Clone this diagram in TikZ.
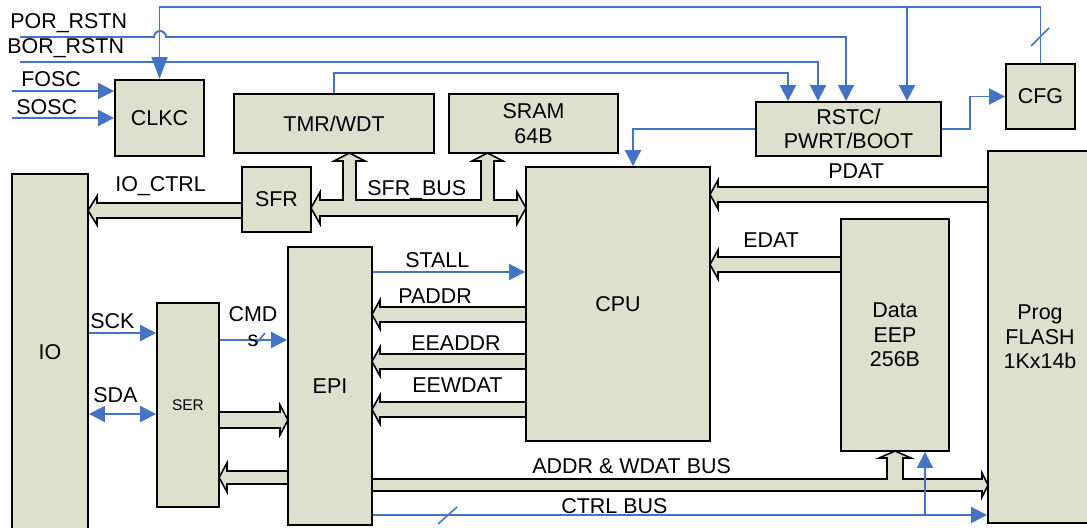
\documentclass[tikz,border=0pt]{standalone}
\usepackage{fontspec}
\setmainfont{Liberation Sans}
\usetikzlibrary{arrows.meta}
\definecolor{boxfill}{RGB}{221,224,204}
\definecolor{sigblue}{RGB}{68,114,196}

\begin{document}
\begin{tikzpicture}[x=0.02cm, y=-0.02cm,
    every node/.style={font=\fontsize{12.2}{13.9}\selectfont},
    blk/.style={draw=black, fill=boxfill, line width=1.1pt, inner sep=0pt, align=center},
    bus/.style={draw=black, fill=boxfill, line width=0.9pt},
    sig/.style={draw=sigblue, line width=1.1pt, -{Triangle[length=0.32cm, width=0.32cm]}},
    sigboth/.style={sig, {Triangle[length=0.32cm, width=0.32cm]}-{Triangle[length=0.32cm, width=0.32cm]}},
    tick/.style={draw=sigblue, line width=0.9pt},
    lbl/.style={inner sep=0pt, anchor=base west}]
    \useasboundingbox (0,0) rectangle (1087,527);

    % buses (drawn first, boxes go on top)
    \draw[bus] (245,203) -- (97,203) -- (97,196) -- (88,210.5) -- (97,225) -- (97,218) -- (245,218);
    \draw[bus] (320,200) -- (343,200) -- (343,161) -- (334,161) -- (349.5,153) -- (365,161) -- (356,161) -- (356,200)
        -- (481,200) -- (481,161) -- (472,161) -- (487.5,153) -- (503,161) -- (494,161) -- (494,200)
        -- (517,200) -- (517,192) -- (526,208) -- (517,224) -- (517,216) -- (320,216) -- (320,224) -- (311,208) -- (320,192) -- cycle;
    \draw[bus] (529,307) -- (380,307) -- (380,300) -- (372,314.5) -- (380,329) -- (380,322) -- (529,322);
    \draw[bus] (529,354) -- (380,354) -- (380,347) -- (372,361.5) -- (380,376) -- (380,369) -- (529,369);
    \draw[bus] (529,402) -- (380,402) -- (380,395) -- (372,409.5) -- (380,424) -- (380,417) -- (529,417);
    \draw[bus] (991,187) -- (718,187) -- (718,180) -- (710,194.5) -- (718,209) -- (718,202) -- (991,202);
    \draw[bus] (844,257) -- (718,257) -- (718,250) -- (710,264.5) -- (718,279) -- (718,272) -- (844,272);
    \draw[bus] (216,412) -- (280,412) -- (280,405) -- (288,420) -- (280,435) -- (280,428) -- (216,428);
    \draw[bus] (291,471) -- (227,471) -- (227,463) -- (219,477.5) -- (227,492) -- (227,484) -- (291,484);
    \draw[bus] (369,479) -- (887,479) -- (887,458) -- (879,458) -- (895,451) -- (911,458) -- (903,458) -- (903,479)
        -- (982,479) -- (982,473) -- (988,485) -- (982,497) -- (982,491) -- (369,491);

    % blocks
    \node[blk, minimum width=1.52cm, minimum height=7.12cm] (io) at (50,352) {IO};
    \node[blk, minimum width=1.78cm, minimum height=1.52cm] (clkc) at (159.5,118) {CLKC};
    \node[blk, minimum width=4.00cm, minimum height=1.18cm] (tmr) at (334,123.5) {TMR/WDT};
    \node[blk, minimum width=3.38cm, minimum height=1.18cm] (sram) at (533.5,123.5) {SRAM\\64B};
    \node[blk, minimum width=3.70cm, minimum height=1.08cm] (rstc) at (848.5,129) {RSTC/\\PWRT/BOOT};
    \node[blk, minimum width=1.38cm, minimum height=1.30cm] (cfg) at (1040.5,96.5) {CFG};
    \node[blk, minimum width=2.08cm, minimum height=7.44cm] (flash) at (1040,337) {Prog\\FLASH\\1Kx14b};
    \node[blk, minimum width=1.38cm, minimum height=1.30cm] (sfr) at (276.5,199.5) {SFR};
    \node[blk, minimum width=1.24cm, minimum height=4.08cm, font=\fontsize{8.8}{10}\selectfont] (ser) at (188,405) {SER};
    \node[blk, minimum width=1.68cm, minimum height=5.56cm] (epi) at (330,386) {EPI};
    \node[blk, minimum width=3.68cm, minimum height=5.48cm] (cpu) at (618,304) {CPU};
    \node[blk, minimum width=2.16cm, minimum height=4.64cm] (eep) at (895,335) {Data\\EEP\\256B};

    % signals
    \coordinate (fosc) at (12,91);
    \coordinate (sosc) at (12,118);
    \coordinate (por) at (20,37);
    \coordinate (bor) at (20,62);
    \draw[sig] (fosc) -- (clkc.west |- fosc);
    \draw[sig] (sosc) -- (clkc.west |- sosc);
    \draw[sig] (por) -- (154,37) arc[start angle=180, end angle=0, radius=0.12cm] -- (846,37) -- (846,37 |- rstc.north);
    \draw[sig] (bor) -- (818,62) -- (818,62 |- rstc.north);
    \draw[sig] (tmr.north) |- (788,73) -- (788,73 |- rstc.north);
    \draw[sig, -{Triangle[length=0.44cm, width=0.32cm]}] (cfg.north) |- (clkc.north |- 0,7) -- (clkc.north);
    \draw[sig] (907,7) -- (907,7 |- rstc.north);
    \draw[tick] (1031,46) -- (1049,28);
    \draw[sig] (rstc.west) -| (cpu.north -| 633,0);
    \draw[sig] (rstc.east) -- ++(28,0) |- (cfg.west);
    \draw[sig] (io.east |- 0,333) -- (ser.west |- 0,333);
    \draw[sigboth] (io.east |- 0,414) -- (ser.west |- 0,414);
    \draw[sig] (ser.east |- 0,340) -- (epi.west |- 0,340);
    \draw[tick] (255,345) -- (265,333);
    \draw[sig] (epi.east |- 0,272) -- (cpu.west |- 0,272);
    \draw[sig] (epi.east |- 0,515) -- (flash.west |- 0,515);
    \draw[tick] (438,524) -- (457,507);
    \draw[sig] (925,515) -- (925,515 |- eep.south);

    % labels
    \node[lbl] (porlbl) at (10,29) {POR\_RSTN};
    \node[lbl] (borlbl) at (7,53) {BOR\_RSTN};
    \node[lbl] (fosclbl) at (21,87) {FOSC};
    \node[lbl] (sosclbl) at (16,114) {SOSC};
    \node[lbl] (ioctrl) at (115,191) {IO\_CTRL};
    \node[lbl] (sfrbus) at (367,195) {SFR\_BUS};
    \node[lbl] (stall) at (405,267) {STALL};
    \node[lbl] (paddr) at (398,303) {PADDR};
    \node[lbl] (eeaddr) at (411,350) {EEADDR};
    \node[lbl] (eewdat) at (412,392) {EEWDAT};
    \node[lbl] (pdat) at (828,178) {PDAT};
    \node[lbl] (edat) at (743,247) {EDAT};
    \node[lbl] (scklbl) at (90,328) {SCK};
    \node[lbl] (sdalbl) at (93,402) {SDA};
    \node[inner sep=0pt, anchor=north, align=center] (cmds) at (253,306.5) {CMD\\s};
    \node[lbl] (addrbus) at (532,473) {ADDR \& WDAT BUS};
    \node[lbl] (ctrlbus) at (561,513) {CTRL BUS};
\end{tikzpicture}
\end{document}
